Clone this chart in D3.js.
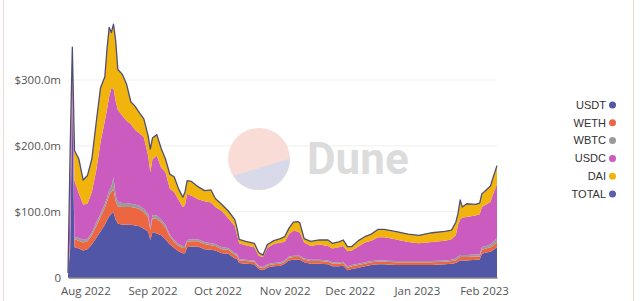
<!DOCTYPE html>
<html><head><meta charset="utf-8">
<script src="https://cdn.jsdelivr.net/npm/d3@7"></script>
<style>
html,body{margin:0;padding:0;background:#fff;}
svg{display:block;}
</style></head>
<body>
<svg id="chart" width="640" height="301"></svg>
<script>
const dates = ["2022-07-24","2022-07-25","2022-07-26","2022-07-27","2022-07-29","2022-07-31","2022-08-02","2022-08-04","2022-08-06","2022-08-08","2022-08-10","2022-08-11","2022-08-12","2022-08-13","2022-08-14","2022-08-15","2022-08-16","2022-08-18","2022-08-20","2022-08-22","2022-08-24","2022-08-26","2022-08-28","2022-08-30","2022-08-31","2022-09-01","2022-09-03","2022-09-05","2022-09-07","2022-09-09","2022-09-11","2022-09-13","2022-09-15","2022-09-16","2022-09-17","2022-09-19","2022-09-22","2022-09-25","2022-09-28","2022-09-30","2022-10-03","2022-10-06","2022-10-09","2022-10-10","2022-10-11","2022-10-14","2022-10-18","2022-10-20","2022-10-22","2022-10-24","2022-10-25","2022-10-27","2022-10-30","2022-11-01","2022-11-03","2022-11-05","2022-11-07","2022-11-08","2022-11-10","2022-11-13","2022-11-17","2022-11-21","2022-11-23","2022-11-26","2022-11-28","2022-11-30","2022-12-02","2022-12-05","2022-12-08","2022-12-11","2022-12-14","2022-12-17","2022-12-22","2022-12-28","2023-01-02","2023-01-08","2023-01-14","2023-01-17","2023-01-19","2023-01-20","2023-01-21","2023-01-22","2023-01-24","2023-01-28","2023-01-30","2023-01-31","2023-02-02","2023-02-04","2023-02-05","2023-02-07"];
const usdt = [3,45,270,46,44,41,43,50,60,70,80,87,93,97,99,88,82,80,80,80,79,78,74,70,57,69,67,64,58,50,45,40,37,37,46,47,47,43,42,41,37,36,29,28,22,21,20,13,11,15,16,17,18,21,26,27,27,27,23,21,21,20,17,17,18,11,13,15,17,19,20,20,19,19,19,19,20,21,22,24,26,26,26,27,27,36,38,39,41,46];
const weth = [0.5,10,12,12,12,12,12,14,18,22,26,28,32,33,35,28,26,27,27,27,27,26,25,22,15,21,22,20,18,12,9,8,8,8,8,8,8,8,7,7,6,6,5,5,4,4,4,3,3,3,3,3,3,3,4,4,4,4,4,4,4,4,4,4,4,4,4,4,4,4,4,4,4,4,4,4,4,4,4,5,5,5,5,5,5,6,6,7,7,8];
const wbtc = [0.2,3,3,4,4,4,4,4,5,5,6,6,7,8,18,8,7,6,6,5,5,5,5,5,4,5,5,4,4,3,3,3,3,3,3,3,3,3,3,3,3,3,3,3,2,2,2,2,2,2,2,2,2,2,2,2,2,2,2,2,2,2,2,2,2,2,2,2,2,2,2,2,2,2,2,2,2,2,3,3,3,3,3,3,3,4,4,4,5,6];
const usdc = [2,92,40,85,68,54,53,62,79,108,126,134,143,150,135,144,140,133,125,121,113,110,109,88,84,85,91,79,80,70,73,67,59,62,70,66,61,62,62,56,55,45,41,29,24,22,20,15,15,25,26,29,30,28,34,38,37,35,24,21,23,22,21,23,24,23,22,26,30,31,35,35,33,29,27,29,30,31,35,48,54,57,58,59,61,61,63,65,72,82];
const dai  = [1,45,25,46,52,37,43,50,73,83,67,92,105,84,98,92,61,63,56,34,36,31,28,30,35,32,32,29,20,22,23,17,15,20,20,22,19,16,19,13,10,11,10,10,6,6,6,5,3,5,5,5,6,8,9,13,15,15,6,7,7,9,8,8,9,7,6,9,9,10,12,12,12,12,12,14,14,14,20,17,30,16,20,17,17,20,22,24,25,28];
const seriesNames = ["USDT","WETH","WBTC","USDC","DAI"];
const legendNames = ["USDT","WETH","WBTC","USDC","DAI","TOTAL"];
const yTicks = [0,100,200,300];
const colors = {USDT:"#5256a6",WETH:"#ec6642",WBTC:"#9a9a9a",USDC:"#cb5bbf",DAI:"#f1b40c",TOTAL:"#5a5eae"};

const parse = d3.timeParse("%Y-%m-%d");
const cols = {USDT:usdt,WETH:weth,WBTC:wbtc,USDC:usdc,DAI:dai};
const rows = dates.map((d,i)=>{
  const r = {date: parse(d)};
  seriesNames.forEach(k=>r[k]=cols[k][i]);
  r.TOTAL = seriesNames.reduce((s,k)=>s+cols[k][i],0);
  return r;
});

const svg = d3.select("#chart");
// card border
svg.append("rect").attr("x",3.5).attr("y",-10).attr("width",630).attr("height",330)
  .attr("fill","none").attr("stroke","#f4d6d6").attr("stroke-width",1);

const x = d3.scaleTime().domain(d3.extent(rows,d=>d.date)).range([68,497]);
const y = d3.scaleLinear().domain([0,300]).range([277.5,80]);

// gridlines
svg.append("g").selectAll("line").data(yTicks.filter(t=>t>0)).join("line")
  .attr("x1",68).attr("x2",497).attr("y1",d=>y(d)).attr("y2",d=>y(d))
  .attr("stroke","#efefef").attr("stroke-width",1);

// watermark
const wm = svg.append("g");
const cx=259, cy=159, r=31;
wm.append("clipPath").attr("id","circ").append("circle").attr("cx",cx).attr("cy",cy).attr("r",r);
wm.append("circle").attr("cx",cx).attr("cy",cy).attr("r",r).attr("fill","#fadcd6");
wm.append("path").attr("clip-path","url(#circ)")
  .attr("d",`M${cx-r-2},${cy+19} L${cx+r+2},${cy-1} L${cx+r+2},${cy+r+2} L${cx-r-2},${cy+r+2} Z`)
  .attr("fill","#d9dae9");
wm.append("text").attr("x",307).attr("y",174).text("Dune")
  .attr("font-family","Roboto, 'Open Sans', sans-serif").attr("font-weight","bold")
  .attr("font-size",44).attr("fill","#dcdcdc");

// stacked areas
const stack = d3.stack().keys(seriesNames);
const layers = stack(rows);
const area = d3.area().x(d=>x(d.data.date)).y0(d=>y(d[0])).y1(d=>y(d[1])).curve(d3.curveLinear);
svg.append("g").selectAll("path").data(layers).join("path")
  .attr("d",area).attr("fill",d=>colors[d.key]).attr("fill-opacity",1);

// total line
const line = d3.line().x(d=>x(d.date)).y(d=>y(d.TOTAL)).curve(d3.curveLinear);
svg.append("path").datum(rows).attr("d",line).attr("fill","none")
  .attr("stroke","#4e4f74").attr("stroke-width",1.3).attr("stroke-linejoin","round");

// axes
const fontFam = "'Open Sans', 'Noto Sans', sans-serif";
const xAxis = d3.axisBottom(x)
  .tickValues([new Date(2022,7,1),new Date(2022,8,1),new Date(2022,9,1),new Date(2022,10,1),new Date(2022,11,1),new Date(2023,0,1),new Date(2023,1,1)])
  .tickFormat(d3.timeFormat("%b %Y")).tickSize(0).tickPadding(9);
const gx = svg.append("g").attr("transform","translate(0,277.5)").call(xAxis);
gx.select(".domain").attr("stroke","#444").attr("stroke-width",1);
gx.selectAll("text").attr("font-family",fontFam).attr("font-size",11.5).attr("fill","#555");

const yAxis = d3.axisLeft(y).tickValues(yTicks)
  .tickFormat(d=>d===0?"0":"$"+d3.format(".1f")(d)+"m").tickSize(0).tickPadding(7);
const gy = svg.append("g").attr("transform","translate(68,0)").call(yAxis);
gy.select(".domain").remove();
gy.selectAll("text").attr("font-family",fontFam).attr("font-size",11.5).attr("fill","#555");

// legend
const lg = svg.append("g");
legendNames.forEach((n,i)=>{
  const ly = 105 + i*17.8;
  lg.append("text").attr("x",606).attr("y",ly).attr("dy","0.35em").attr("text-anchor","end")
    .attr("font-family","'Liberation Sans', Arial, sans-serif").attr("font-size",11).attr("fill","#333").text(n);
  lg.append("circle").attr("cx",612.5).attr("cy",ly).attr("r",3.5).attr("fill",colors[n]);
});
</script>
</body></html>
